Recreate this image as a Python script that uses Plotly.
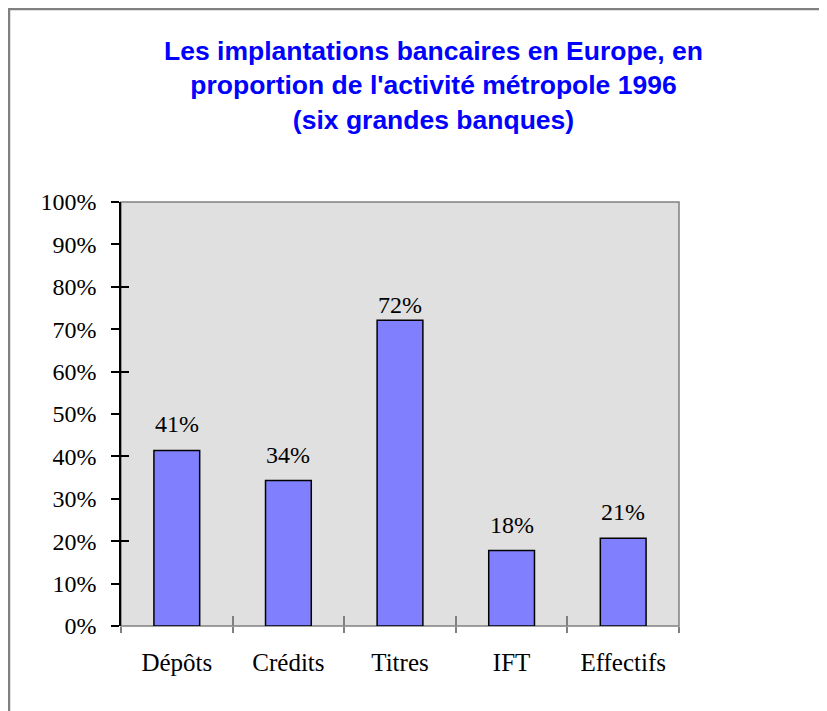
import plotly.graph_objects as go

categories = ["Dépôts", "Crédits", "Titres", "IFT", "Effectifs"]
values = [0.414, 0.343, 0.721, 0.178, 0.207]
label_shift = [11, 11, 0, 11, 11]

OFF = 8  # page body margin
W, H = 827 - OFF, 711 - OFF
L, T = 121 - OFF, 202 - OFF
pw, ph = 558, 424
R, B = W - L - pw, H - T - ph

serif = "Liberation Serif, Times New Roman, serif"

fig = go.Figure()
fig.add_trace(go.Bar(
    x=categories, y=values,
    marker=dict(color="#8080FF", line=dict(color="black", width=1.5)),
    hoverinfo="skip",
))
# invisible trace so the overlay axes (crossing ticks) are drawn
fig.add_trace(go.Scatter(
    x=categories, y=values, xaxis="x2", yaxis="y2", mode="markers",
    marker=dict(opacity=0), hoverinfo="skip", showlegend=False,
))

for c, v, s in zip(categories, values, label_shift):
    fig.add_annotation(x=c, y=v, text=f"{v:.0%}", showarrow=False,
                       yanchor="bottom", yshift=s,
                       font=dict(family=serif, size=24, color="black"))

fig.update_layout(
    width=W, height=H,
    margin=dict(l=L, r=R, t=T, b=B, autoexpand=False),
    paper_bgcolor="white", plot_bgcolor="#E0E0E0",
    showlegend=False, bargap=0.59,
    title=dict(
        text="Les implantations bancaires en Europe, en<br>proportion de l'activité métropole 1996<br>(six grandes banques)",
        xref="container", yref="container", x=(433.5 - OFF) / W, xanchor="center",
        y=1 - 52 / H, yanchor="top",
        font=dict(family="Liberation Sans, Arial, sans-serif", size=26.5,
                  color="#0000FF", weight="bold"),
    ),
    xaxis=dict(
        type="category", tickson="boundaries", ticks="outside", ticklen=6,
        tickcolor="#808080", tickwidth=1.5, showline=False, showgrid=False,
        tickfont=dict(family=serif, size=25, color="black"),
        ticklabelstandoff=19,
    ),
    xaxis2=dict(
        type="category", overlaying="x", matches="x", tickson="boundaries",
        ticks="inside", ticklen=10, tickcolor="#808080", tickwidth=1.5,
        showticklabels=False, showline=False, showgrid=False,
    ),
    yaxis=dict(
        range=[0, 1], dtick=0.1, tickformat=".0%", ticks="outside", ticklen=8,
        tickcolor="black", tickwidth=1.5, showline=True, linecolor="black",
        linewidth=1.5, showgrid=False, zeroline=False,
        tickfont=dict(family=serif, size=24, color="black"),
        ticklabelstandoff=10,
    ),
    yaxis2=dict(
        overlaying="y", matches="y", ticks="inside", ticklen=8,
        tickcolor="black", tickwidth=1.5, showticklabels=False,
        showline=False, showgrid=False, zeroline=False,
    ),
)

# plot area border
fig.add_shape(type="rect", xref="paper", yref="paper", x0=0, x1=1, y0=0, y1=1,
              line=dict(color="#808080", width=1.5), layer="below")
# outer chart border
fig.add_shape(type="rect", xref="paper", yref="paper",
              x0=(9 - OFF - L) / pw, x1=(W + 20 - L) / pw,
              y0=-(H + 20 - (T + ph)) / ph, y1=(T + ph - 1) / ph,
              line=dict(color="#808080", width=2.5), layer="above")

fig.write_html("out.html")
